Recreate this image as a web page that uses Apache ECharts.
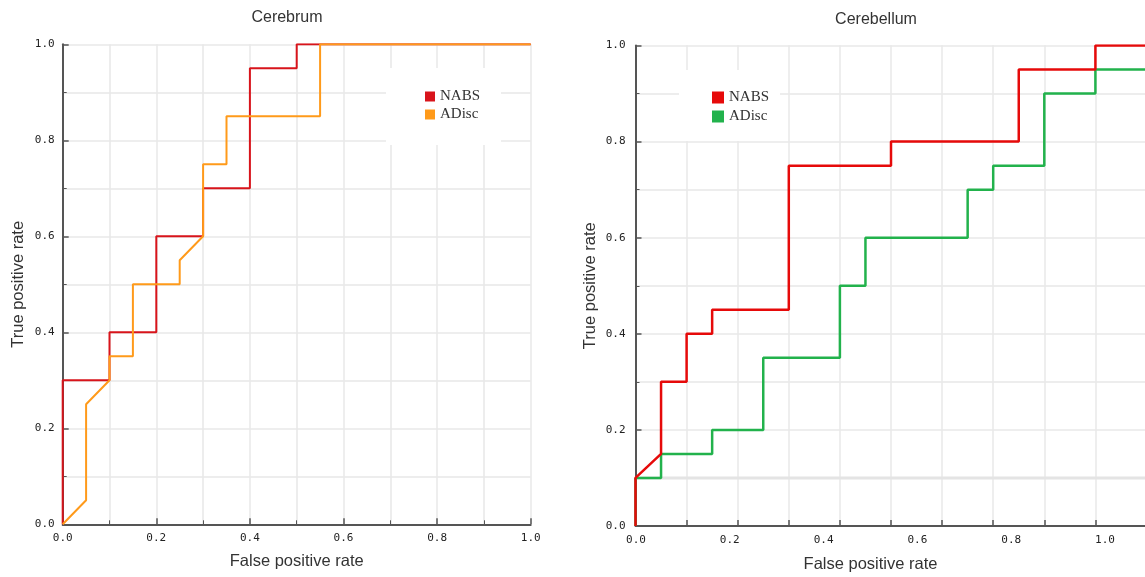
<!DOCTYPE html>
<html><head><meta charset="utf-8">
<script src="https://cdn.jsdelivr.net/npm/echarts@6/dist/echarts.min.js"></script>
<style>html,body{margin:0;padding:0;background:#fff}#c{width:1145px;height:577px}</style>
</head><body><div id="c"></div>
<script>
// ---- data ----
const seriesNames = ['NABS', 'ADisc'];
const titles = ['Cerebrum', 'Cerebellum'];
const xAxisName = 'False positive rate';
const yAxisName = 'True positive rate';
const tickLabels = ['0.0', '0.2', '0.4', '0.6', '0.8', '1.0'];

// Cerebrum ROC points [FPR, TPR]
const cerebrumNABS = [[0,0],[0,0.3],[0.1,0.3],[0.1,0.4],[0.2,0.4],[0.2,0.6],[0.3,0.6],[0.3,0.7],[0.4,0.7],[0.4,0.95],[0.5,0.95],[0.5,1],[1,1]];
const cerebrumADisc = [[0,0],[0.05,0.05],[0.05,0.25],[0.1,0.3],[0.1,0.35],[0.15,0.35],[0.15,0.5],[0.25,0.5],[0.25,0.55],[0.3,0.6],[0.3,0.75],[0.35,0.75],[0.35,0.85],[0.55,0.85],[0.55,1],[1,1]];

// Cerebellum ROC points [FPR, TPR]
const cerebellumNABS = [[0,0],[0,0.1],[0.05,0.15],[0.05,0.3],[0.1,0.3],[0.1,0.4],[0.15,0.4],[0.15,0.45],[0.3,0.45],[0.3,0.75],[0.5,0.75],[0.5,0.8],[0.75,0.8],[0.75,0.95],[0.9,0.95],[0.9,1],[1,1]];
const cerebellumADisc = [[0,0],[0,0.1],[0.05,0.1],[0.05,0.15],[0.15,0.15],[0.15,0.2],[0.25,0.2],[0.25,0.35],[0.4,0.35],[0.4,0.5],[0.45,0.5],[0.45,0.6],[0.65,0.6],[0.65,0.7],[0.7,0.7],[0.7,0.75],[0.8,0.75],[0.8,0.9],[0.9,0.9],[0.9,0.95],[1,0.95],[1,1]];
const cerebellumRefY = 0.1;

// ---- styles ----
const colors = { leftNABS: '#d8141b', leftADisc: '#ff9a1a', rightNABS: '#e60a0a', rightADisc: '#22b24c' };
const axisColor = '#555';
const gridColor = '#e8e8e8';
const tickFont = { fontFamily: 'DejaVu Sans Mono', fontSize: 11, color: '#222' };
const nameFont = { fontFamily: 'Liberation Sans', fontSize: 16.5, color: '#333' };
const labelFmt = v => tickLabels[Math.round(v / 0.2)] || '';

function baseAxis(extra) {
  return Object.assign({
    type: 'value', min: 0, max: 1, interval: 0.2,
    axisLine: { show: true, onZero: true, lineStyle: { color: axisColor, width: 2 } },
    axisTick: { show: true, inside: true, length: 6, lineStyle: { color: axisColor, width: 1.5 } },
    minorTick: { show: true, splitNumber: 2, length: 4, lineStyle: { color: axisColor, width: 1 } },
    splitLine: { show: true, lineStyle: { color: gridColor, width: 1.5 } },
    minorSplitLine: { show: true, lineStyle: { color: gridColor, width: 1.5 } },
    axisLabel: Object.assign({ formatter: labelFmt, margin: 8 }, tickFont),
    nameLocation: 'middle', nameTextStyle: nameFont
  }, extra);
}

const chart = echarts.init(document.getElementById('c'), null, { renderer: 'canvas' });
chart.setOption({
  animation: false,
  backgroundColor: '#fff',
  graphic: [
    { type: 'text', x: 287, y: 18, style: { text: titles[0], textAlign: 'center', textVerticalAlign: 'middle', font: '16px "Liberation Sans"', fill: '#333' } },
    { type: 'text', x: 876, y: 20, style: { text: titles[1], textAlign: 'center', textVerticalAlign: 'middle', font: '16px "Liberation Sans"', fill: '#333' } }
  ],
  grid: [
    { left: 62.7, top: 44.3, width: 468, height: 480, outerBoundsMode: 'none' },
    { left: 635.5, top: 45.5, width: 511, height: 480.5, outerBoundsMode: 'none' },
    { left: 636, top: 45.5, width: 469, height: 480.5, outerBoundsMode: 'none' }
  ],
  xAxis: [
    baseAxis({ gridIndex: 0, name: xAxisName, nameGap: 29 }),
    baseAxis({ gridIndex: 1, interval: 0.1, minorTick: { show: false }, minorSplitLine: { show: false }, axisLabel: { show: false } }),
    baseAxis({ gridIndex: 2, axisLine: { show: false }, axisTick: { show: false }, minorTick: { show: false },
      splitLine: { show: false }, minorSplitLine: { show: false },
      axisLabel: Object.assign({ formatter: labelFmt, margin: 9 }, tickFont), name: xAxisName, nameGap: 30 })
  ],
  yAxis: [
    baseAxis({ gridIndex: 0, name: yAxisName, nameGap: 36 }),
    baseAxis({ gridIndex: 1, name: yAxisName, nameGap: 37, axisLabel: Object.assign({ formatter: labelFmt, margin: 10 }, tickFont) }),
    { type: 'value', gridIndex: 2, min: 0, max: 1, show: false }
  ],
  legend: [
    { orient: 'vertical', left: 386, top: 68, padding: [21, 21, 23, 39], backgroundColor: '#fff',
      itemWidth: 10, itemHeight: 10, itemGap: 3, icon: 'rect', selectedMode: false,
      textStyle: { fontFamily: 'Liberation Serif', fontSize: 15, lineHeight: 15, color: '#333' },
      data: [{ name: seriesNames[0], itemStyle: { color: colors.leftNABS } }, { name: seriesNames[1], itemStyle: { color: colors.leftADisc } }] },
    { orient: 'vertical', left: 679, top: 70, padding: [20, 11, 17, 33], backgroundColor: '#fff',
      itemWidth: 12, itemHeight: 12, itemGap: 4, icon: 'rect', selectedMode: false,
      textStyle: { fontFamily: 'Liberation Serif', fontSize: 15, lineHeight: 15, color: '#333' },
      data: [{ name: seriesNames[0], itemStyle: { color: colors.rightNABS } }, { name: seriesNames[1], itemStyle: { color: colors.rightADisc } }] }
  ],
  series: [
    { type: 'line', name: seriesNames[0], xAxisIndex: 0, yAxisIndex: 0, data: cerebrumNABS, symbol: 'none', z: 2,
      lineStyle: { width: 2, color: colors.leftNABS }, itemStyle: { color: colors.leftNABS } },
    { type: 'line', name: seriesNames[1], xAxisIndex: 0, yAxisIndex: 0, data: cerebrumADisc, symbol: 'none', z: 3,
      lineStyle: { width: 2, color: colors.leftADisc }, itemStyle: { color: colors.leftADisc } },
    { type: 'line', name: 'ref', xAxisIndex: 1, yAxisIndex: 1, data: [[0, cerebellumRefY], [1, cerebellumRefY]], symbol: 'none', z: 1, silent: true,
      lineStyle: { width: 3, color: '#e4e4e4' }, itemStyle: { color: '#e4e4e4' } },
    { type: 'line', name: seriesNames[1], xAxisIndex: 1, yAxisIndex: 1, data: cerebellumADisc, symbol: 'none', z: 2,
      lineStyle: { width: 2.5, color: colors.rightADisc }, itemStyle: { color: colors.rightADisc } },
    { type: 'line', name: seriesNames[0], xAxisIndex: 1, yAxisIndex: 1, data: cerebellumNABS, symbol: 'none', z: 3,
      lineStyle: { width: 2.5, color: colors.rightNABS }, itemStyle: { color: colors.rightNABS } }
  ]
});
</script></body></html>
